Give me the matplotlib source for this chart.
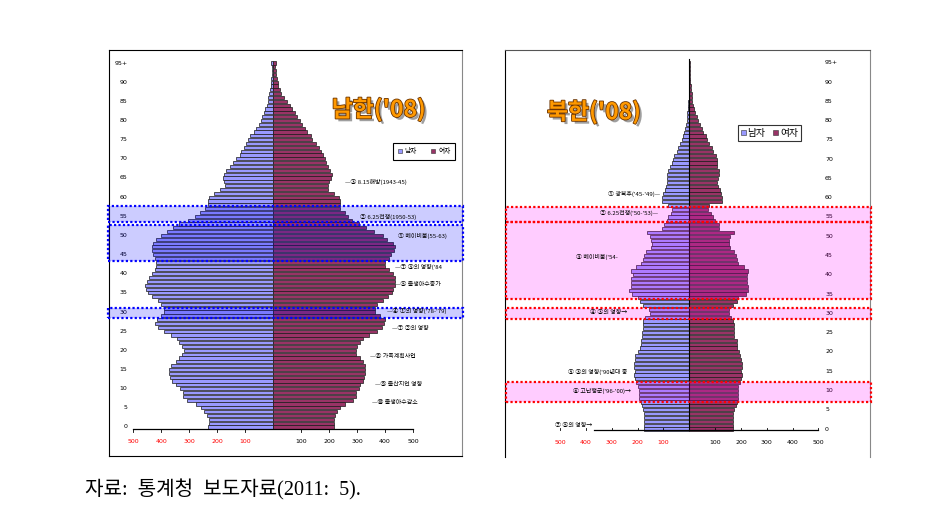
import numpy as np
import matplotlib
matplotlib.use("Agg")
import matplotlib.pyplot as plt
from matplotlib.patches import Rectangle, Patch
import matplotlib.patheffects as pe

plt.rcParams['font.family'] = ['Noto Sans CJK KR', 'DejaVu Sans']

# ---------------- data (thousands of persons), ages 0..95+ ----------------
ages = list(range(96))
age_tick_pos = [0, 5, 10, 15, 20, 25, 30, 35, 40, 45, 50, 55, 60, 65, 70, 75, 80, 85, 90, 95]
age_tick_lab = ['0', '5', '10', '15', '20', '25', '30', '35', '40', '45', '50', '55',
                '60', '65', '70', '75', '80', '85', '90', '95+']
x_ticks = [-500, -400, -300, -200, -100, 100, 200, 300, 400, 500]
x_tick_lab = ['500', '400', '300', '200', '100', '100', '200', '300', '400', '500']

south_male = [232, 229, 229, 235, 247, 256, 274, 307, 321, 321, 331, 345, 360, 369, 372, 372,
              363, 348, 336, 324, 318, 324, 336, 343, 366, 390, 411, 420, 416, 399, 390, 390,
              399, 411, 432, 446, 455, 456, 452, 443, 434, 422, 419, 419, 422, 428, 434, 434,
              428, 419, 401, 378, 359, 336, 303, 278, 262, 243, 232, 232, 228, 212, 190, 173,
              175, 179, 175, 167, 152, 143, 131, 119, 113, 105, 98, 89, 81, 69, 60, 51,
              44, 38, 32, 27, 23, 19, 17, 14, 11, 8, 7, 6, 5, 4, 3, 6]
south_female = [218, 217, 218, 223, 230, 238, 258, 286, 295, 298, 307, 309, 321, 325, 329, 329,
                329, 321, 312, 298, 298, 301, 309, 321, 343, 372, 389, 395, 399, 381, 364, 364,
                373, 393, 412, 425, 428, 436, 437, 434, 428, 414, 401, 401, 413, 422, 431, 434,
                428, 408, 393, 361, 333, 307, 282, 268, 256, 238, 240, 238, 236, 217, 196, 196,
                200, 208, 211, 203, 197, 190, 184, 179, 170, 163, 152, 139, 134, 123, 113, 104,
                95, 86, 77, 69, 60, 51, 39, 30, 24, 19, 17, 14, 12, 10, 8, 12]
north_male = [174, 174, 174, 174, 174, 178, 185, 188, 194, 196, 196, 197, 206, 210, 213, 210,
              214, 213, 210, 210, 197, 191, 188, 188, 182, 182, 178, 178, 181, 170, 152, 155,
              178, 191, 197, 221, 232, 226, 227, 224, 217, 226, 206, 187, 181, 175, 169, 150,
              146, 150, 152, 163, 107, 98, 88, 81, 72, 68, 84, 107, 107, 101, 94, 90,
              88, 85, 85, 81, 75, 68, 65, 59, 49, 43, 36, 30, 23, 19, 15, 13,
              10, 9, 8, 6, 5, 4, 3, 2, 1, 1, 1, 1, 1, 1, 1, 1]
north_female = [170, 168, 168, 168, 170, 174, 181, 183, 187, 187, 187, 190, 196, 199, 205, 199,
                205, 203, 199, 196, 191, 183, 183, 183, 174, 174, 174, 174, 168, 163, 152, 152,
                170, 186, 190, 218, 228, 228, 224, 222, 224, 228, 213, 190, 183, 181, 174, 157,
                152, 152, 157, 174, 116, 116, 99, 93, 84, 74, 77, 125, 125, 123, 119, 112,
                108, 112, 116, 115, 108, 106, 106, 103, 93, 86, 77, 70, 63, 54, 48, 41,
                35, 28, 21, 18, 15, 12, 10, 9, 6, 5, 4, 3, 2, 2, 1, 1]

legend_labels_s = ['남자', '여자']
legend_labels_n = ['남자', '여자']

south_notes = [('—③ 8.15해방(1943-45)', 64.0, 257),
               ('② 6.25전쟁(1950-53)', 54.8, 311),
               ('① 베이비붐(55-63)', 49.9, 446),
               ('—⑦ ③의 영향(\'84', 41.8, 436),
               ('—⑤ 출생아수증가', 37.3, 436),
               ('—④ ①의 영향(\'78-\'79)', 30.3, 408),
               ('—⑦ ②의 영향', 25.6, 425),
               ('—⑧ 가족계획사업', 18.5, 346),
               ('—⑨ 출산지연 영향', 11.2, 364),
               ('—⑩ 출생아수감소', 6.3, 353)]
north_notes = [('① 광복후(\'45-\'49)—', 60.9, -114),
               ('② 6.25전쟁(\'50-\'53)—', 56.1, -121),
               ('③ 베이비붐(\'54-', 44.7, -277),
               ('④ ③의 영향→', 30.2, -242),
               ('⑤ ③의 영향(\'90년대 중', 14.9, -238),
               ('⑥ 고난행군(\'96-\'00)→', 9.9, -226),
               ('⑦ ⑤의 영향→', 1.0, -377)]

south_boxes = [(53.6, 57.8), (43.3, 52.6), (28.4, 31.1)]
north_boxes = [(53.7, 57.5), (33.8, 53.8), (28.5, 31.4), (6.9, 12.3)]

MALE = '#9999ff'
FEMALE = '#993366'

fig = plt.figure(figsize=(9.42, 5.13), dpi=100)
fig.patch.set_facecolor('white')

axL = fig.add_axes([109 / 942, 1 - 456 / 513, 353 / 942, 406 / 513])
axR = fig.add_axes([505 / 942, 1 - 457 / 513, 365 / 942, 407 / 513])


def pyramid(ax, male, female):
    m = np.array(male)
    f = np.array(female)
    ax.barh(ages, -m, height=0.82, color=MALE, edgecolor='#1a1a1a', linewidth=0.5, zorder=2)
    ax.barh(ages, f, height=0.82, color=FEMALE, edgecolor='#1a1a1a', linewidth=0.5, zorder=2)
    ax.set_xticks([])
    ax.set_yticks([])


def xaxis(ax, x0, x1, yline, ylab, tickdir):
    ax.plot([x0, x1], [yline, yline], color='black', lw=0.9, zorder=3, clip_on=False)
    for t, lab in zip(x_ticks, x_tick_lab):
        ax.plot([t, t], [yline, yline + tickdir], color='black', lw=0.6, zorder=3)
        ax.text(t, ylab, lab, ha='center', va='center', fontsize=4.5,
                color='red' if t < 0 else 'black', family='DejaVu Sans')


def boxes(ax, spans, x0, x1, fc, ec, alpha):
    for lo, hi in spans:
        ax.add_patch(Rectangle((x0, lo), x1 - x0, hi - lo, facecolor=fc, alpha=alpha,
                               edgecolor='none', zorder=3, clip_on=False))
        ax.add_patch(Rectangle((x0, lo), x1 - x0, hi - lo, facecolor='none',
                               edgecolor=ec, lw=1.6, linestyle=(0, (1, 1)),
                               zorder=4, clip_on=False))


title_fx = [pe.SimplePatchShadow(offset=(2, -2), shadow_rgbFace='#777777', alpha=0.7),
            pe.Stroke(linewidth=1.2, foreground='#6b3300'), pe.Normal()]

# ---------------- South Korea ----------------
pyramid(axL, south_male, south_female)
axL.set_xlim(-586, 675)
axL.set_ylim(-7.57, 98.4)
for s in ['left', 'top', 'bottom']:
    axL.spines[s].set_color('black')
axL.spines['right'].set_color('#888888')
for p, l in zip(age_tick_pos, age_tick_lab):
    axL.text(-520, p, l, ha='right', va='center', fontsize=4.5, family='DejaVu Sans')
xaxis(axL, -500, 500, -0.5, -3.7, -0.7)
boxes(axL, south_boxes, -589, 679, '#0000ff', '#0000ff', 0.2)
for txt, a, xv in south_notes:
    axL.text(xv, a, txt, ha='left', va='center', fontsize=4.3, zorder=6)
axL.text(378, 82.8, "남한('08)", ha='center', va='center', fontsize=16.5, fontweight='bold',
         color='#ff9900', path_effects=title_fx, zorder=6)
legL = axL.legend(handles=[Patch(facecolor=MALE, edgecolor='#333333', lw=0.4),
                           Patch(facecolor=FEMALE, edgecolor='#333333', lw=0.4)],
                  labels=legend_labels_s, loc='upper left', bbox_to_anchor=(0.805, 0.772),
                  ncol=2, fontsize=4.8, handlelength=0.6, handleheight=0.6, handletextpad=0.4,
                  columnspacing=2.2, borderpad=0.7, borderaxespad=0, fancybox=False,
                  edgecolor='black', framealpha=1)
legL.get_frame().set_linewidth(0.8)

# ---------------- North Korea ----------------
pyramid(axR, north_male, north_female)
axR.set_xlim(-714, 700)
axR.set_ylim(-7.26, 98.3)
axR.spines['bottom'].set_visible(False)
axR.spines['left'].set_color('black')
axR.spines['top'].set_color('#555555')
axR.spines['right'].set_color('#888888')
axR.plot([0, 0], [-0.3, 96], color='black', lw=0.8, zorder=2.5)
for p, l in zip(age_tick_pos, age_tick_lab):
    axR.text(526, p, l, ha='left', va='center', fontsize=4.5, family='DejaVu Sans')
xaxis(axR, -368, 500, -0.26, -3.4, 0.6)
boxes(axR, north_boxes, -710, 705, '#ff00ff', '#ff0000', 0.2)
for txt, a, xv in north_notes:
    axR.text(xv, a, txt, ha='right', va='center', fontsize=4.3, zorder=6)
axR.text(-369, 82.1, "북한('08)", ha='center', va='center', fontsize=16.5, fontweight='bold',
         color='#ff9900', path_effects=title_fx, zorder=6)
legR = axR.legend(handles=[Patch(facecolor=MALE, edgecolor='#333333', lw=0.4),
                           Patch(facecolor=FEMALE, edgecolor='#333333', lw=0.4)],
                  labels=legend_labels_n, loc='upper left', bbox_to_anchor=(0.638, 0.816),
                  ncol=2, fontsize=7, handlelength=0.5, handleheight=0.5, handletextpad=0.2,
                  columnspacing=0.8, borderpad=0.3, borderaxespad=0, fancybox=False,
                  edgecolor='#333333', framealpha=1)
legR.get_frame().set_linewidth(0.8)

fig.text(85 / 942, 1 - 490 / 513, '자료:  통계청  보도자료(2011:  5).', ha='left', va='center',
         fontsize=14.5, family=['Liberation Serif', 'Noto Sans CJK KR'])

fig.savefig('out.png', dpi=100)
